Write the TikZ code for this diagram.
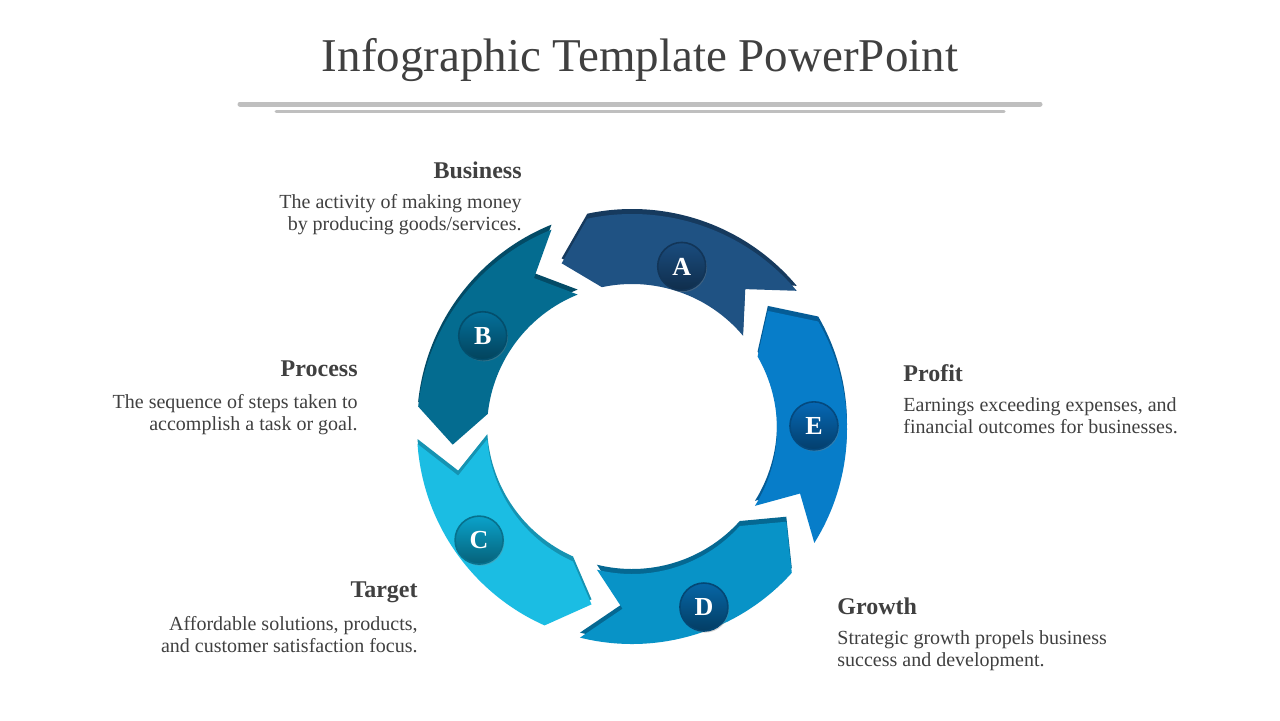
\documentclass[tikz,border=0pt]{standalone}
\usepackage{fontspec}
\setmainfont{Liberation Serif}
\usepackage{tikz}
\usetikzlibrary{positioning,shadows}
\definecolor{titlec}{HTML}{404040}
\definecolor{textc}{HTML}{404040}
\definecolor{rulec}{HTML}{BFBFBF}
\definecolor{segA}{HTML}{1F5283}
\definecolor{segB}{HTML}{046C90}
\definecolor{segC}{HTML}{1BBDE3}
\definecolor{segD}{HTML}{0893C7}
\definecolor{segE}{HTML}{077DC9}
\definecolor{edgA}{HTML}{163A5E}
\definecolor{edgB}{HTML}{034B66}
\definecolor{edgC}{HTML}{1593B2}
\definecolor{edgD}{HTML}{056892}
\definecolor{edgE}{HTML}{055C96}
\definecolor{dotA}{HTML}{1A4C7E}
\definecolor{dotB}{HTML}{04709A}
\definecolor{dotC}{HTML}{0AA2CA}
\definecolor{dotD}{HTML}{0666A6}
\definecolor{dotE}{HTML}{0668B4}
\tikzset{
  x=0.5pt,y=0.5pt,
  head/.style={font=\fontsize{12}{14}\selectfont\bfseries,text=textc,inner sep=0pt},
  desc/.style={font=\fontsize{10}{11}\selectfont,text=textc,inner sep=0pt},
  rule/.style={draw=rulec,line cap=round},
  dot/.style={circle,minimum size=24pt,inner sep=0pt,draw=#1!70!black,line width=0.8pt,
    top color=#1,bottom color=#1!60!black,text=white,
    font=\fontsize{13}{13}\selectfont\bfseries,drop shadow={opacity=0.35,shadow xshift=0.6pt,shadow yshift=-0.8pt}},
}
% one ring piece: notch at the clockwise end, point at the other
\newcommand{\segpath}[1]{(#1+4:215) arc[start angle=#1+4,end angle=#1+66,radius=215]
  -- (#1+77:180) -- (#1+66:145) arc[start angle=#1+66,end angle=#1+4,radius=145]
  -- (#1+15:180) -- cycle}
\newcommand{\ringseg}[3]{\fill[#3,shift={(0,5)}] \segpath{#1};\fill[#2] \segpath{#1};}

\begin{document}
\begin{tikzpicture}
  \useasboundingbox[fill=white] (0,0) rectangle (1280,720);
  \node[font=\fontsize{23.5}{26}\selectfont,text=titlec] (title) at (640,660) {Infographic Template PowerPoint};
  \draw[rule,line width=2.5pt] (240,616) coordinate (r1a) -- (1040,616) coordinate (r1b);
  \draw[rule,line width=1.5pt] (276,609) coordinate (r2a) -- (1004,609) coordinate (r2b);

  \begin{scope}[shift={(632,291)}]
    \ringseg{36}{segA}{edgA}
    \ringseg{108}{segB}{edgB}
    \ringseg{180}{segC}{edgC}
    \ringseg{252}{segD}{edgD}
    \ringseg{324}{segE}{edgE}
    \node[dot=dotA] (A) at (73:170) {A};
    \node[dot=dotB] (B) at (148:176) {B};
    \node[dot=dotC] (C) at (216:189) {C};
    \node[dot=dotD] (D) at (292:192) {D};
    \node[dot=dotE] (E) at (1:182) {E};
  \end{scope}

  \node[head,anchor=east] (bizhd) at (522,550) {Business};
  \node[desc,anchor=east,align=right] (bizdesc) at (522,505) {The activity of making money\\by producing goods/services.};
  \node[head,anchor=east] (prochd) at (358,351) {Process};
  \node[desc,anchor=east,align=right] (procdesc) at (358,305) {The sequence of steps taken to\\accomplish a task or goal.};
  \node[head,anchor=east] (tarhd) at (418,128) {Target};
  \node[desc,anchor=east,align=right] (tardesc) at (418,85) {Affordable solutions, products,\\and customer satisfaction focus.};
  \node[head,anchor=west] (profhd) at (903,347) {Profit};
  \node[desc,anchor=west,align=left] (profdesc) at (903,304) {Earnings exceeding expenses, and\\financial outcomes for businesses.};
  \node[head,anchor=west] (growhd) at (837,114) {Growth};
  \node[desc,anchor=west,align=left] (growdesc) at (837,69) {Strategic growth propels business\\success and development.};
\end{tikzpicture}
\end{document}
